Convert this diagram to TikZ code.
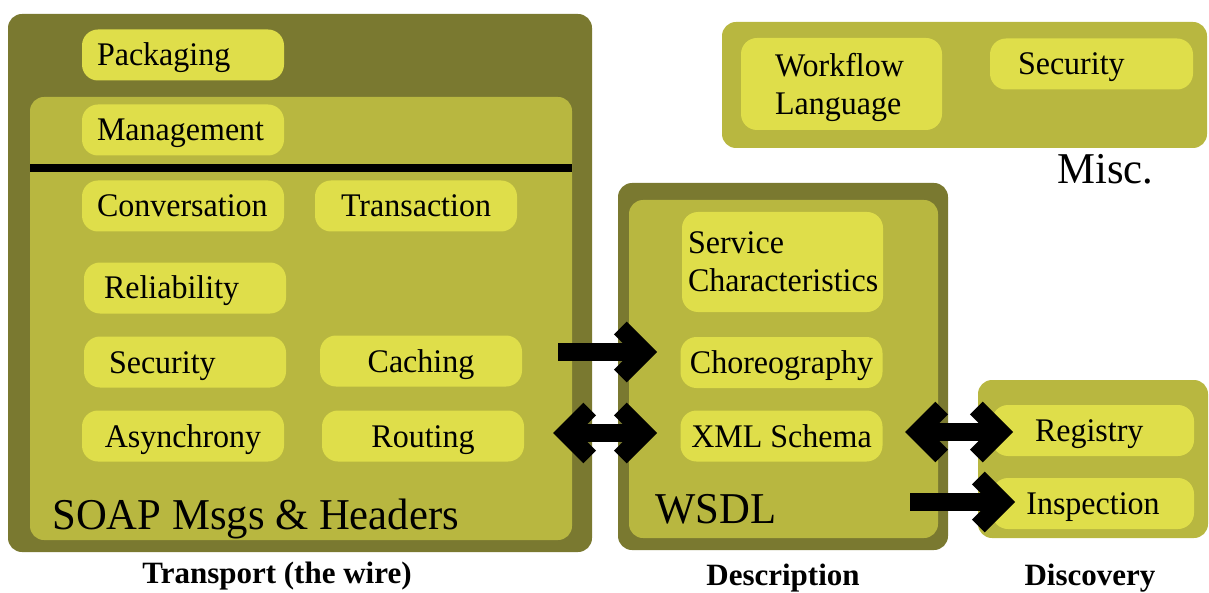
\documentclass[tikz,border=0pt]{standalone}
\usepackage{fontspec}
\setmainfont{Liberation Serif}
\newfontfamily\narrowfont{Liberation Serif}[FakeStretch=0.97]
\usetikzlibrary{arrows.meta}
\definecolor{olivedark}{RGB}{122,121,48}
\definecolor{olivelight}{RGB}{184,183,64}
\definecolor{pillyellow}{RGB}{223,222,74}

\begin{document}
\begin{tikzpicture}[x=0.5pt, y=-0.5pt, line join=miter, >={Straight Barb[length=12pt,width=24pt]},
		pill/.style={fill=pillyellow, rounded corners=8pt, minimum width=101pt, minimum height=25.5pt, text height=13.5pt, text depth=2.5pt, font=\narrowfont\fontsize{16.5}{19}\selectfont},
		tallpill/.style={fill=pillyellow, rounded corners=8pt, align=left, font=\narrowfont\fontsize{16.5}{19}\selectfont},
		title/.style={inner sep=0pt, anchor=base west, font=\narrowfont\fontsize{22}{26}\selectfont},
		caption/.style={inner sep=0pt, anchor=base, font=\bfseries\fontsize{15.5}{18}\selectfont},
		fat/.style={line width=9pt}]
	\useasboundingbox (0,0) rectangle (1209,593);
	% transport
	\fill[olivedark, rounded corners=7pt] (8,14) rectangle (592,552);
	\fill[olivelight, rounded corners=7pt] (30,97) rectangle (572,540);
	\draw[line width=4pt] (30,168) -- (572,168);
	% description
	\fill[olivedark, rounded corners=7pt] (618,183) rectangle (948,550);
	\fill[olivelight, rounded corners=7pt] (629,200) rectangle (938,538);
	% misc and discovery
	\fill[olivelight, rounded corners=7pt] (722,22) rectangle (1207,148);
	\fill[olivelight, rounded corners=7pt] (978,380) rectangle (1208,538);

	\foreach \nm/\px/\py/\pad/\tw/\txt in {pk/183/55/7.5/86/Packaging, mg/183/130/7.5/86/Management, cv/183/206/7.5/86/Conversation, rl/185/288/10/81/Reliability, sc/185/362/12.5/76/Security, msec/1091.5/64/14/73.5/Security, reg/1093/430.5/21/58/Registry} {
		\node[pill, align=left, inner xsep=\pad pt, text width=\tw pt] (\nm) at (\px,\py) {\txt};
	}
	\foreach \nm/\px/\py/\txt in {tr/416/206/Transaction, ch/421/361/Caching, as/183/436/Asynchrony, rt/423/436/Routing, cho/781.5/362.5/Choreography, xml/781.5/436/XML Schema, insp/1093/503.5/Inspection} {
		\node[pill] (\nm) at (\px,\py) {\txt};
	}
	\node[tallpill, minimum height=50pt, inner xsep=3pt, text width=94.5pt] (svc) at (782.5,262) {Service\\Characteristics};
	\node[tallpill, minimum height=46pt, inner xsep=17pt, text width=66.5pt] (wf) at (841.5,84) {\rule{0pt}{15pt}Workflow\\Language};

	\node[title] (soap) at (52,529) {SOAP Msgs \& Headers};
	\node[title] (wsdl) at (655,523) {WSDL};
	\node[title, font=\narrowfont\fontsize{22}{26}\selectfont] (misc) at (1057,184) {Misc.};
	\node[caption] (transport) at (277,583) {Transport (the wire)};
	\node[caption] (descr) at (783,585) {Description};
	\node[caption] (disco) at (1090,585) {Discovery};

	\coordinate (a1s) at (558,352);
	\coordinate (a1e) at (657,352);
	\coordinate (a2s) at (553,433);
	\coordinate (a2e) at (657,433);
	\coordinate (a3s) at (905,432);
	\coordinate (a3e) at (1013,432);
	\coordinate (a4s) at (910,502);
	\coordinate (a4e) at (1015,502);
	\draw[fat, ->] (a1s) -- (a1e);
	\draw[fat, <->] (a2s) -- (a2e);
	\draw[fat, <->] (a3s) -- (a3e);
	\draw[fat, ->] (a4s) -- (a4e);
\end{tikzpicture}
\end{document}
